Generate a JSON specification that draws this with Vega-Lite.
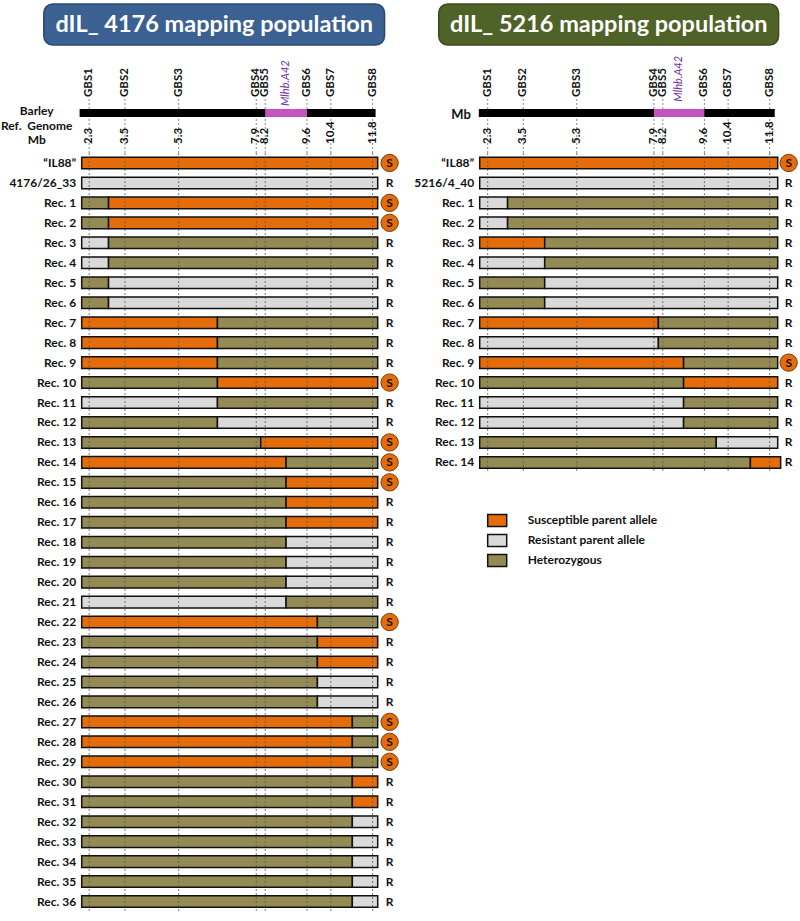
{
  "$schema": "https://vega.github.io/schema/vega-lite/v6.json",
  "autosize": {"type": "pad"},
  "padding": {"left": 0.7, "top": 2, "right": 0, "bottom": 0},
  "background": "white",
  "config": {"view": {"stroke": null}, "font": "Lato", "text": {"font": "Lato"}},
  "spacing": 13,
  "resolve": {"scale": {"color": "independent"}, "legend": {"color": "independent"}},
  "datasets": {
    "markers": [
      {"gbs": "GBS1", "mb": 2.3}, {"gbs": "GBS2", "mb": 3.5}, {"gbs": "GBS3", "mb": 5.3}, {"gbs": "GBS4", "mb": 7.9},
      {"gbs": "GBS5", "mb": 8.2}, {"gbs": "GBS6", "mb": 9.6}, {"gbs": "GBS7", "mb": 10.4}, {"gbs": "GBS8", "mb": 11.8}
    ],
    "leftSeg": [
      {"line": "“IL88”", "from": 2.05, "to": 11.97, "genotype": "Susceptible parent allele"},
      {"line": "4176/26_33", "from": 2.05, "to": 11.97, "genotype": "Resistant parent allele"},
      {"line": "Rec. 1", "from": 2.05, "to": 2.95, "genotype": "Heterozygous"},
      {"line": "Rec. 1", "from": 2.95, "to": 11.97, "genotype": "Susceptible parent allele"},
      {"line": "Rec. 2", "from": 2.05, "to": 2.95, "genotype": "Heterozygous"},
      {"line": "Rec. 2", "from": 2.95, "to": 11.97, "genotype": "Susceptible parent allele"},
      {"line": "Rec. 3", "from": 2.05, "to": 2.95, "genotype": "Resistant parent allele"},
      {"line": "Rec. 3", "from": 2.95, "to": 11.97, "genotype": "Heterozygous"},
      {"line": "Rec. 4", "from": 2.05, "to": 2.95, "genotype": "Resistant parent allele"},
      {"line": "Rec. 4", "from": 2.95, "to": 11.97, "genotype": "Heterozygous"},
      {"line": "Rec. 5", "from": 2.05, "to": 2.95, "genotype": "Heterozygous"},
      {"line": "Rec. 5", "from": 2.95, "to": 11.97, "genotype": "Resistant parent allele"},
      {"line": "Rec. 6", "from": 2.05, "to": 2.95, "genotype": "Heterozygous"},
      {"line": "Rec. 6", "from": 2.95, "to": 11.97, "genotype": "Resistant parent allele"},
      {"line": "Rec. 7", "from": 2.05, "to": 6.6, "genotype": "Susceptible parent allele"},
      {"line": "Rec. 7", "from": 6.6, "to": 11.97, "genotype": "Heterozygous"},
      {"line": "Rec. 8", "from": 2.05, "to": 6.6, "genotype": "Susceptible parent allele"},
      {"line": "Rec. 8", "from": 6.6, "to": 11.97, "genotype": "Heterozygous"},
      {"line": "Rec. 9", "from": 2.05, "to": 6.6, "genotype": "Susceptible parent allele"},
      {"line": "Rec. 9", "from": 6.6, "to": 11.97, "genotype": "Heterozygous"},
      {"line": "Rec. 10", "from": 2.05, "to": 6.6, "genotype": "Heterozygous"},
      {"line": "Rec. 10", "from": 6.6, "to": 11.97, "genotype": "Susceptible parent allele"},
      {"line": "Rec. 11", "from": 2.05, "to": 6.6, "genotype": "Resistant parent allele"},
      {"line": "Rec. 11", "from": 6.6, "to": 11.97, "genotype": "Heterozygous"},
      {"line": "Rec. 12", "from": 2.05, "to": 6.6, "genotype": "Heterozygous"},
      {"line": "Rec. 12", "from": 6.6, "to": 11.97, "genotype": "Resistant parent allele"},
      {"line": "Rec. 13", "from": 2.05, "to": 8.05, "genotype": "Heterozygous"},
      {"line": "Rec. 13", "from": 8.05, "to": 11.97, "genotype": "Susceptible parent allele"},
      {"line": "Rec. 14", "from": 2.05, "to": 8.9, "genotype": "Susceptible parent allele"},
      {"line": "Rec. 14", "from": 8.9, "to": 11.97, "genotype": "Heterozygous"},
      {"line": "Rec. 15", "from": 2.05, "to": 8.9, "genotype": "Heterozygous"},
      {"line": "Rec. 15", "from": 8.9, "to": 11.97, "genotype": "Susceptible parent allele"},
      {"line": "Rec. 16", "from": 2.05, "to": 8.9, "genotype": "Heterozygous"},
      {"line": "Rec. 16", "from": 8.9, "to": 11.97, "genotype": "Susceptible parent allele"},
      {"line": "Rec. 17", "from": 2.05, "to": 8.9, "genotype": "Heterozygous"},
      {"line": "Rec. 17", "from": 8.9, "to": 11.97, "genotype": "Susceptible parent allele"},
      {"line": "Rec. 18", "from": 2.05, "to": 8.9, "genotype": "Heterozygous"},
      {"line": "Rec. 18", "from": 8.9, "to": 11.97, "genotype": "Resistant parent allele"},
      {"line": "Rec. 19", "from": 2.05, "to": 8.9, "genotype": "Heterozygous"},
      {"line": "Rec. 19", "from": 8.9, "to": 11.97, "genotype": "Resistant parent allele"},
      {"line": "Rec. 20", "from": 2.05, "to": 8.9, "genotype": "Heterozygous"},
      {"line": "Rec. 20", "from": 8.9, "to": 11.97, "genotype": "Resistant parent allele"},
      {"line": "Rec. 21", "from": 2.05, "to": 8.9, "genotype": "Resistant parent allele"},
      {"line": "Rec. 21", "from": 8.9, "to": 11.97, "genotype": "Heterozygous"},
      {"line": "Rec. 22", "from": 2.05, "to": 9.95, "genotype": "Susceptible parent allele"},
      {"line": "Rec. 22", "from": 9.95, "to": 11.97, "genotype": "Heterozygous"},
      {"line": "Rec. 23", "from": 2.05, "to": 9.95, "genotype": "Heterozygous"},
      {"line": "Rec. 23", "from": 9.95, "to": 11.97, "genotype": "Susceptible parent allele"},
      {"line": "Rec. 24", "from": 2.05, "to": 9.95, "genotype": "Heterozygous"},
      {"line": "Rec. 24", "from": 9.95, "to": 11.97, "genotype": "Susceptible parent allele"},
      {"line": "Rec. 25", "from": 2.05, "to": 9.95, "genotype": "Heterozygous"},
      {"line": "Rec. 25", "from": 9.95, "to": 11.97, "genotype": "Resistant parent allele"},
      {"line": "Rec. 26", "from": 2.05, "to": 9.95, "genotype": "Heterozygous"},
      {"line": "Rec. 26", "from": 9.95, "to": 11.97, "genotype": "Resistant parent allele"},
      {"line": "Rec. 27", "from": 2.05, "to": 11.12, "genotype": "Susceptible parent allele"},
      {"line": "Rec. 27", "from": 11.12, "to": 11.97, "genotype": "Heterozygous"},
      {"line": "Rec. 28", "from": 2.05, "to": 11.12, "genotype": "Susceptible parent allele"},
      {"line": "Rec. 28", "from": 11.12, "to": 11.97, "genotype": "Heterozygous"},
      {"line": "Rec. 29", "from": 2.05, "to": 11.12, "genotype": "Susceptible parent allele"},
      {"line": "Rec. 29", "from": 11.12, "to": 11.97, "genotype": "Heterozygous"},
      {"line": "Rec. 30", "from": 2.05, "to": 11.12, "genotype": "Heterozygous"},
      {"line": "Rec. 30", "from": 11.12, "to": 11.97, "genotype": "Susceptible parent allele"},
      {"line": "Rec. 31", "from": 2.05, "to": 11.12, "genotype": "Heterozygous"},
      {"line": "Rec. 31", "from": 11.12, "to": 11.97, "genotype": "Susceptible parent allele"},
      {"line": "Rec. 32", "from": 2.05, "to": 11.12, "genotype": "Heterozygous"},
      {"line": "Rec. 32", "from": 11.12, "to": 11.97, "genotype": "Resistant parent allele"},
      {"line": "Rec. 33", "from": 2.05, "to": 11.12, "genotype": "Heterozygous"},
      {"line": "Rec. 33", "from": 11.12, "to": 11.97, "genotype": "Resistant parent allele"},
      {"line": "Rec. 34", "from": 2.05, "to": 11.12, "genotype": "Heterozygous"},
      {"line": "Rec. 34", "from": 11.12, "to": 11.97, "genotype": "Resistant parent allele"},
      {"line": "Rec. 35", "from": 2.05, "to": 11.12, "genotype": "Heterozygous"},
      {"line": "Rec. 35", "from": 11.12, "to": 11.97, "genotype": "Resistant parent allele"},
      {"line": "Rec. 36", "from": 2.05, "to": 11.12, "genotype": "Heterozygous"},
      {"line": "Rec. 36", "from": 11.12, "to": 11.97, "genotype": "Resistant parent allele"}
    ],
    "leftStatus": [
      {"line": "“IL88”", "status": "S"}, {"line": "4176/26_33", "status": "R"},
      {"line": "Rec. 1", "status": "S"}, {"line": "Rec. 2", "status": "S"}, {"line": "Rec. 3", "status": "R"},
      {"line": "Rec. 4", "status": "R"}, {"line": "Rec. 5", "status": "R"}, {"line": "Rec. 6", "status": "R"},
      {"line": "Rec. 7", "status": "R"}, {"line": "Rec. 8", "status": "R"}, {"line": "Rec. 9", "status": "R"},
      {"line": "Rec. 10", "status": "S"}, {"line": "Rec. 11", "status": "R"}, {"line": "Rec. 12", "status": "R"},
      {"line": "Rec. 13", "status": "S"}, {"line": "Rec. 14", "status": "S"}, {"line": "Rec. 15", "status": "S"},
      {"line": "Rec. 16", "status": "R"}, {"line": "Rec. 17", "status": "R"}, {"line": "Rec. 18", "status": "R"},
      {"line": "Rec. 19", "status": "R"}, {"line": "Rec. 20", "status": "R"}, {"line": "Rec. 21", "status": "R"},
      {"line": "Rec. 22", "status": "S"}, {"line": "Rec. 23", "status": "R"}, {"line": "Rec. 24", "status": "R"},
      {"line": "Rec. 25", "status": "R"}, {"line": "Rec. 26", "status": "R"}, {"line": "Rec. 27", "status": "S"},
      {"line": "Rec. 28", "status": "S"}, {"line": "Rec. 29", "status": "S"}, {"line": "Rec. 30", "status": "R"},
      {"line": "Rec. 31", "status": "R"}, {"line": "Rec. 32", "status": "R"}, {"line": "Rec. 33", "status": "R"},
      {"line": "Rec. 34", "status": "R"}, {"line": "Rec. 35", "status": "R"}, {"line": "Rec. 36", "status": "R"}
    ],
    "rightSeg": [
      {"line": "“IL88”", "from": 2.03, "to": 12.07, "genotype": "Susceptible parent allele"},
      {"line": "5216/4_40", "from": 2.03, "to": 12.07, "genotype": "Resistant parent allele"},
      {"line": "Rec. 1", "from": 2.03, "to": 2.97, "genotype": "Resistant parent allele"},
      {"line": "Rec. 1", "from": 2.97, "to": 12.07, "genotype": "Heterozygous"},
      {"line": "Rec. 2", "from": 2.03, "to": 2.97, "genotype": "Resistant parent allele"},
      {"line": "Rec. 2", "from": 2.97, "to": 12.07, "genotype": "Heterozygous"},
      {"line": "Rec. 3", "from": 2.03, "to": 4.22, "genotype": "Susceptible parent allele"},
      {"line": "Rec. 3", "from": 4.22, "to": 12.07, "genotype": "Heterozygous"},
      {"line": "Rec. 4", "from": 2.03, "to": 4.22, "genotype": "Resistant parent allele"},
      {"line": "Rec. 4", "from": 4.22, "to": 12.07, "genotype": "Heterozygous"},
      {"line": "Rec. 5", "from": 2.03, "to": 4.22, "genotype": "Heterozygous"},
      {"line": "Rec. 5", "from": 4.22, "to": 12.07, "genotype": "Resistant parent allele"},
      {"line": "Rec. 6", "from": 2.03, "to": 4.22, "genotype": "Heterozygous"},
      {"line": "Rec. 6", "from": 4.22, "to": 12.07, "genotype": "Resistant parent allele"},
      {"line": "Rec. 7", "from": 2.03, "to": 8.05, "genotype": "Susceptible parent allele"},
      {"line": "Rec. 7", "from": 8.05, "to": 12.07, "genotype": "Heterozygous"},
      {"line": "Rec. 8", "from": 2.03, "to": 8.05, "genotype": "Resistant parent allele"},
      {"line": "Rec. 8", "from": 8.05, "to": 12.07, "genotype": "Heterozygous"},
      {"line": "Rec. 9", "from": 2.03, "to": 8.9, "genotype": "Susceptible parent allele"},
      {"line": "Rec. 9", "from": 8.9, "to": 12.07, "genotype": "Heterozygous"},
      {"line": "Rec. 10", "from": 2.03, "to": 8.9, "genotype": "Heterozygous"},
      {"line": "Rec. 10", "from": 8.9, "to": 12.07, "genotype": "Susceptible parent allele"},
      {"line": "Rec. 11", "from": 2.03, "to": 8.9, "genotype": "Resistant parent allele"},
      {"line": "Rec. 11", "from": 8.9, "to": 12.07, "genotype": "Heterozygous"},
      {"line": "Rec. 12", "from": 2.03, "to": 8.9, "genotype": "Resistant parent allele"},
      {"line": "Rec. 12", "from": 8.9, "to": 12.07, "genotype": "Heterozygous"},
      {"line": "Rec. 13", "from": 2.03, "to": 10.0, "genotype": "Heterozygous"},
      {"line": "Rec. 13", "from": 10.0, "to": 12.07, "genotype": "Resistant parent allele"},
      {"line": "Rec. 14", "from": 2.03, "to": 11.15, "genotype": "Heterozygous"},
      {"line": "Rec. 14", "from": 11.15, "to": 12.17, "genotype": "Susceptible parent allele"}
    ],
    "rightStatus": [
      {"line": "“IL88”", "status": "S"}, {"line": "5216/4_40", "status": "R"},
      {"line": "Rec. 1", "status": "R"}, {"line": "Rec. 2", "status": "R"}, {"line": "Rec. 3", "status": "R"},
      {"line": "Rec. 4", "status": "R"}, {"line": "Rec. 5", "status": "R"}, {"line": "Rec. 6", "status": "R"},
      {"line": "Rec. 7", "status": "R"}, {"line": "Rec. 8", "status": "R"}, {"line": "Rec. 9", "status": "S"},
      {"line": "Rec. 10", "status": "R"}, {"line": "Rec. 11", "status": "R"}, {"line": "Rec. 12", "status": "R"},
      {"line": "Rec. 13", "status": "R"}, {"line": "Rec. 14", "status": "R"}
    ],
    "leftHead": [{"title": "dIL_ 4176 mapping population", "locus": "Mlhb.A42", "from": 8.2, "to": 9.6}],
    "rightHead": [{"title": "dIL_ 5216 mapping population", "locus": "Mlhb.A42", "from": 7.9, "to": 9.6}]
  },
  "hconcat": [
    {
      "bounds": "flush",
      "spacing": 0,
      "vconcat": [
        {
          "width": 296,
          "height": 151,
          "layer": [
            {
              "data": {"name": "leftHead"},
              "mark": {"type": "rect", "fill": "#3A6192", "stroke": "#2A4A70", "strokeWidth": 1.5, "cornerRadius": 9},
              "encoding": {
                "x": {"datum": 0.78, "type": "quantitative", "scale": {"domain": [2.05, 11.97], "nice": false, "zero": false}, "axis": null},
                "x2": {"datum": 12.2},
                "y": {"datum": 0.013, "type": "quantitative", "scale": {"domain": [0, 1], "reverse": true, "nice": false, "zero": false}, "axis": null},
                "y2": {"datum": 0.285}
              }
            },
            {
              "data": {"name": "leftHead"},
              "mark": {"type": "text", "color": "white", "fontSize": 23.5, "fontWeight": "bold", "baseline": "middle", "align": "center"},
              "encoding": {"x": {"datum": 6.49}, "y": {"datum": 0.152}, "text": {"field": "title"}}
            },
            {
              "data": {"name": "markers"},
              "mark": {"type": "rule", "color": "#666", "strokeWidth": 0.8, "strokeDash": [2, 2]},
              "encoding": {"x": {"field": "mb", "type": "quantitative"}, "y": {"datum": 0.642}, "y2": {"datum": 1}}
            },
            {
              "data": {"name": "leftHead"},
              "mark": {"type": "rect", "fill": "black"},
              "encoding": {"x": {"datum": 1.98}, "x2": {"datum": 11.9}, "y": {"datum": 0.709}, "y2": {"datum": 0.762}}
            },
            {
              "data": {"name": "leftHead"},
              "mark": {"type": "rect", "fill": "#C453C0"},
              "encoding": {"x": {"field": "from", "type": "quantitative"}, "x2": {"field": "to"}, "y": {"datum": 0.709}, "y2": {"datum": 0.762}}
            },
            {
              "data": {"name": "leftHead"},
              "transform": [{"calculate": "(datum.from + datum.to) / 2", "as": "mid"}],
              "mark": {"type": "text", "angle": 270, "align": "left", "baseline": "middle", "fontSize": 11, "fontStyle": "italic", "color": "#7030A0"},
              "encoding": {"x": {"field": "mid", "type": "quantitative"}, "y": {"datum": 0.689}, "text": {"field": "locus"}}
            },
            {
              "data": {"name": "markers"},
              "mark": {"type": "text", "angle": 270, "align": "left", "baseline": "middle", "fontSize": 11.5, "fontWeight": "bold", "color": "#111"},
              "encoding": {"x": {"field": "mb", "type": "quantitative"}, "y": {"datum": 0.629}, "text": {"field": "gbs"}}
            },
            {
              "data": {"name": "markers"},
              "mark": {"type": "text", "angle": 270, "align": "left", "baseline": "middle", "fontSize": 11.5, "fontWeight": "bold", "color": "#111"},
              "encoding": {"x": {"field": "mb", "type": "quantitative"}, "y": {"datum": 0.94}, "text": {"field": "mb", "format": ".1f"}}
            },
            {
              "data": {"name": "leftHead"},
              "mark": {"type": "text", "align": "center", "baseline": "middle", "fontSize": 12, "fontWeight": "bold", "lineHeight": 14.5, "color": "#111", "text": ["Barley", "Ref.\u00a0\u00a0Genome", "Mb"]},
              "encoding": {"x": {"datum": 0.542}, "y": {"datum": 0.722}}
            }
          ]
        },
        {
          "width": 296,
          "height": 758.5,
          "layer": [
            {
              "data": {"name": "leftSeg"},
              "mark": {"type": "bar", "stroke": "#111", "strokeWidth": 1.5},
              "encoding": {
                "y": {"field": "line", "type": "nominal", "sort": null, "title": null, "scale": {"paddingInner": 0.42, "paddingOuter": 0.21},
                      "axis": {"ticks": false, "domain": false, "labelPadding": 6, "labelFontSize": 12, "labelFontWeight": "bold", "labelColor": "#111", "labelFont": "Lato"}},
                "x": {"field": "from", "type": "quantitative", "scale": {"domain": [2.05, 11.97], "nice": false, "zero": false}, "axis": null},
                "x2": {"field": "to"},
                "color": {"field": "genotype", "type": "nominal",
                          "scale": {"domain": ["Susceptible parent allele", "Resistant parent allele", "Heterozygous"], "range": ["#E46C0A", "#DADADA", "#948A54"]},
                          "legend": null}
              }
            },
            {
              "data": {"name": "markers"},
              "mark": {"type": "rule", "color": "#555", "strokeWidth": 0.8, "strokeDash": [2, 2]},
              "encoding": {"x": {"field": "mb", "type": "quantitative"}}
            },
            {
              "data": {"name": "leftStatus"},
              "transform": [{"filter": "datum.status == 'S'"}],
              "mark": {"type": "circle", "size": 300, "fill": "#E46C0A", "stroke": "#7A3A08", "strokeWidth": 1, "opacity": 1},
              "encoding": {"y": {"field": "line", "type": "nominal", "sort": null}, "x": {"datum": 12.37}}
            },
            {
              "data": {"name": "leftStatus"},
              "mark": {"type": "text", "fontSize": 12, "fontWeight": "bold", "color": "#111", "baseline": "middle", "align": "center"},
              "encoding": {"y": {"field": "line", "type": "nominal", "sort": null}, "x": {"datum": 12.37}, "text": {"field": "status"}}
            }
          ]
        }
      ]
    },
    {
      "bounds": "flush",
      "spacing": 0,
      "vconcat": [
        {
          "width": 298,
          "height": 151,
          "layer": [
            {
              "data": {"name": "rightHead"},
              "mark": {"type": "rect", "fill": "#4F6228", "stroke": "#3C4B1E", "strokeWidth": 1.5, "cornerRadius": 9},
              "encoding": {
                "x": {"datum": 0.65, "type": "quantitative", "scale": {"domain": [2.03, 12.07], "nice": false, "zero": false}, "axis": null},
                "x2": {"datum": 12.1},
                "y": {"datum": 0.013, "type": "quantitative", "scale": {"domain": [0, 1], "reverse": true, "nice": false, "zero": false}, "axis": null},
                "y2": {"datum": 0.285}
              }
            },
            {
              "data": {"name": "rightHead"},
              "mark": {"type": "text", "color": "white", "fontSize": 23.5, "fontWeight": "bold", "baseline": "middle", "align": "center"},
              "encoding": {"x": {"datum": 6.38}, "y": {"datum": 0.152}, "text": {"field": "title"}}
            },
            {
              "data": {"name": "markers"},
              "mark": {"type": "rule", "color": "#666", "strokeWidth": 0.8, "strokeDash": [2, 2]},
              "encoding": {"x": {"field": "mb", "type": "quantitative"}, "y": {"datum": 0.642}, "y2": {"datum": 1}}
            },
            {
              "data": {"name": "rightHead"},
              "mark": {"type": "rect", "fill": "black"},
              "encoding": {"x": {"datum": 2.0}, "x2": {"datum": 11.97}, "y": {"datum": 0.709}, "y2": {"datum": 0.762}}
            },
            {
              "data": {"name": "rightHead"},
              "mark": {"type": "rect", "fill": "#C453C0"},
              "encoding": {"x": {"field": "from", "type": "quantitative"}, "x2": {"field": "to"}, "y": {"datum": 0.709}, "y2": {"datum": 0.762}}
            },
            {
              "data": {"name": "rightHead"},
              "transform": [{"calculate": "(datum.from + datum.to) / 2", "as": "mid"}],
              "mark": {"type": "text", "angle": 270, "align": "left", "baseline": "middle", "fontSize": 11, "fontStyle": "italic", "color": "#7030A0"},
              "encoding": {"x": {"field": "mid", "type": "quantitative"}, "y": {"datum": 0.66}, "text": {"field": "locus"}}
            },
            {
              "data": {"name": "markers"},
              "mark": {"type": "text", "angle": 270, "align": "left", "baseline": "middle", "fontSize": 11.5, "fontWeight": "bold", "color": "#111"},
              "encoding": {"x": {"field": "mb", "type": "quantitative"}, "y": {"datum": 0.629}, "text": {"field": "gbs"}}
            },
            {
              "data": {"name": "markers"},
              "mark": {"type": "text", "angle": 270, "align": "left", "baseline": "middle", "fontSize": 11.5, "fontWeight": "bold", "color": "#111"},
              "encoding": {"x": {"field": "mb", "type": "quantitative"}, "y": {"datum": 0.94}, "text": {"field": "mb", "format": ".1f"}}
            },
            {
              "data": {"name": "rightHead"},
              "mark": {"type": "text", "align": "right", "baseline": "middle", "fontSize": 13, "fontWeight": "bold", "color": "#111", "text": "Mb"},
              "encoding": {"x": {"datum": 1.73}, "y": {"datum": 0.745}}
            }
          ]
        },
        {
          "width": 298,
          "height": 319.4,
          "layer": [
            {
              "data": {"name": "rightSeg"},
              "mark": {"type": "bar", "stroke": "#111", "strokeWidth": 1.5},
              "encoding": {
                "y": {"field": "line", "type": "nominal", "sort": null, "title": null, "scale": {"paddingInner": 0.42, "paddingOuter": 0.21},
                      "axis": {"ticks": false, "domain": false, "labelPadding": 6, "labelFontSize": 12, "labelFontWeight": "bold", "labelColor": "#111", "labelFont": "Lato"}},
                "x": {"field": "from", "type": "quantitative", "scale": {"domain": [2.03, 12.07], "nice": false, "zero": false}, "axis": null},
                "x2": {"field": "to"},
                "color": {"field": "genotype", "type": "nominal",
                          "scale": {"domain": ["Susceptible parent allele", "Resistant parent allele", "Heterozygous"], "range": ["#E46C0A", "#DADADA", "#948A54"]},
                          "legend": {"orient": "bottom", "direction": "vertical", "title": null, "offset": 30, "padding": 7,
                                     "symbolType": "M-1,-0.63L1,-0.63L1,0.63L-1,0.63Z", "symbolSize": 361,
                                     "symbolStrokeColor": "#111", "symbolStrokeWidth": 1.5, "symbolOpacity": 1,
                                     "labelFont": "Lato", "labelFontSize": 12, "labelFontWeight": "bold", "labelColor": "#111",
                                     "labelOffset": 20, "rowPadding": 0}}
              }
            },
            {
              "data": {"name": "markers"},
              "mark": {"type": "rule", "color": "#555", "strokeWidth": 0.8, "strokeDash": [2, 2]},
              "encoding": {"x": {"field": "mb", "type": "quantitative"}}
            },
            {
              "data": {"name": "rightStatus"},
              "transform": [{"filter": "datum.status == 'S'"}],
              "mark": {"type": "circle", "size": 300, "fill": "#E46C0A", "stroke": "#7A3A08", "strokeWidth": 1, "opacity": 1},
              "encoding": {"y": {"field": "line", "type": "nominal", "sort": null}, "x": {"datum": 12.44}}
            },
            {
              "data": {"name": "rightStatus"},
              "mark": {"type": "text", "fontSize": 12, "fontWeight": "bold", "color": "#111", "baseline": "middle", "align": "center"},
              "encoding": {"y": {"field": "line", "type": "nominal", "sort": null}, "x": {"datum": 12.44}, "text": {"field": "status"}}
            }
          ]
        }
      ]
    }
  ]
}
